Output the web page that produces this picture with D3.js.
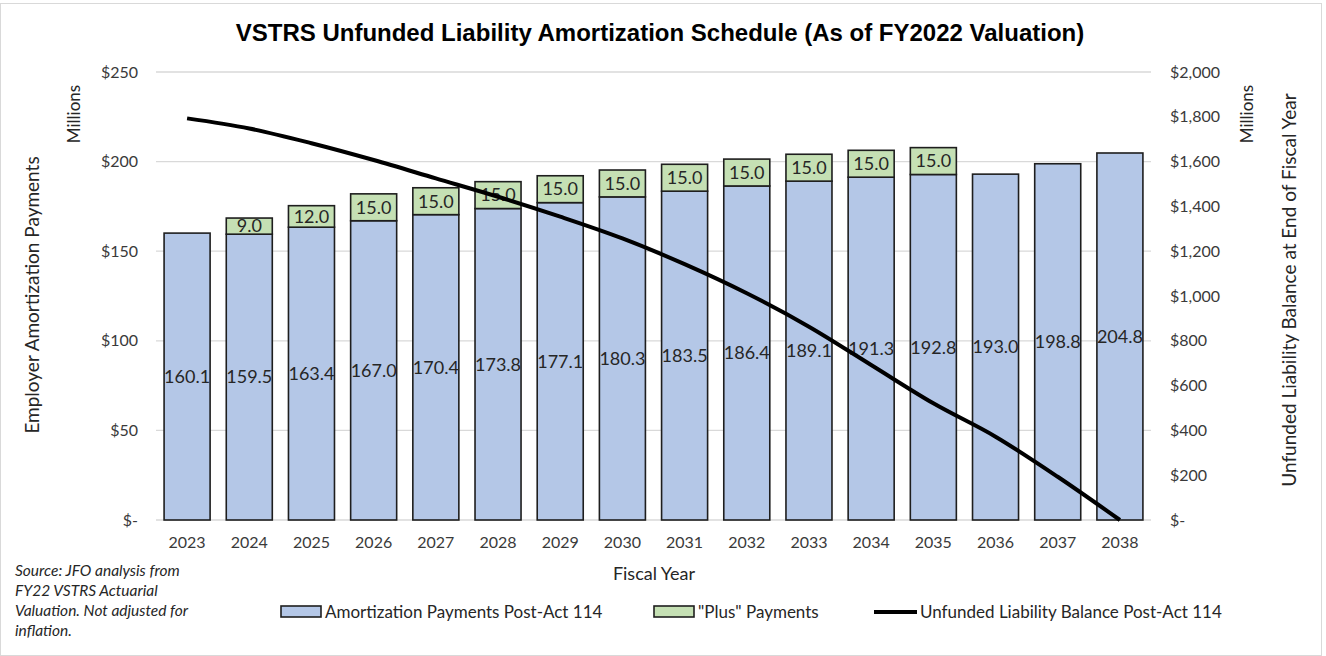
<!DOCTYPE html>
<html>
<head>
<meta charset="utf-8">
<script src="https://cdn.jsdelivr.net/npm/d3@7"></script>
<style>
  body { margin: 0; background: #fff; }
  text { font-family: Lato, "Open Sans", sans-serif; fill: #262626; }
  .tick text { font-size: 16px; fill: #3a3a3a; }
</style>
</head>
<body>
<div id="chart"></div>
<script>
// values in $ millions
var years = ['2023', '2024', '2025', '2026', '2027', '2028', '2029', '2030',
             '2031', '2032', '2033', '2034', '2035', '2036', '2037', '2038'];
var amortPayments = [160.1, 159.5, 163.4, 167.0, 170.4, 173.8, 177.1, 180.3,
                     183.5, 186.4, 189.1, 191.3, 192.8, 193.0, 198.8, 204.8];
var plusPayments = [0, 9.0, 12.0, 15.0, 15.0, 15.0, 15.0, 15.0,
                    15.0, 15.0, 15.0, 15.0, 15.0, 0, 0, 0];
var liabilityBalance = [1793, 1748, 1682, 1607, 1525, 1443, 1354, 1257,
                        1142, 1012, 863, 692, 521, 372, 193, 0];
var leftTicks = [0, 50, 100, 150, 200, 250];
var rightTicks = [0, 200, 400, 600, 800, 1000, 1200, 1400, 1600, 1800, 2000];

var W = 1326, H = 656;
var margin = {top: 72, left: 156, right: 175, bottom: 136};
var pw = W - margin.left - margin.right;
var ph = H - margin.top - margin.bottom;

var svg = d3.select('#chart').append('svg').attr('width', W).attr('height', H);

// light frame around the chart
svg.append('rect').attr('x', 0.5).attr('y', 3.5).attr('width', W - 5).attr('height', H - 4)
    .attr('fill', 'none').attr('stroke', '#d9d9d9');

var g = svg.append('g').attr('transform', 'translate(' + margin.left + ',' + margin.top + ')');

var x = d3.scaleBand().domain(years).range([0, pw]).paddingInner(0.26).paddingOuter(0.13);
var yL = d3.scaleLinear().domain([0, 250]).range([ph, 0]);
var yR = d3.scaleLinear().domain([0, 2000]).range([ph, 0]);

var fmtL = function(d) { return d === 0 ? '$-' : '$' + d3.format(',')(d); };

// gridlines
g.append('g').selectAll('line.grid').data(leftTicks).enter().append('line').attr('class', 'grid')
    .attr('x1', 0).attr('x2', pw)
    .attr('y1', function(d) { return yL(d); }).attr('y2', function(d) { return yL(d); })
    .attr('stroke', '#d9d9d9').attr('stroke-width', 1.3);

// axes
var axL = g.append('g').call(d3.axisLeft(yL).tickValues(leftTicks).tickFormat(fmtL).tickSize(0).tickPadding(18));
axL.select('.domain').remove();

var axR = g.append('g').attr('transform', 'translate(' + pw + ',0)')
    .call(d3.axisRight(yR).tickValues(rightTicks).tickFormat(fmtL).tickSize(0).tickPadding(19));
axR.select('.domain').remove();

var axX = g.append('g').attr('transform', 'translate(0,' + ph + ')')
    .call(d3.axisBottom(x).tickSize(0).tickPadding(17));
axX.select('.domain').remove();

// stacked bars
var bw = x.bandwidth();
g.append('g').selectAll('rect.amort').data(amortPayments).enter().append('rect').attr('class', 'amort')
    .attr('x', function(d, i) { return x(years[i]); })
    .attr('y', function(d) { return yL(d); })
    .attr('width', bw)
    .attr('height', function(d) { return yL(0) - yL(d); })
    .attr('fill', '#b4c7e7').attr('stroke', '#1e1e1e').attr('stroke-width', 1.6);

var plusData = years.map(function(y, i) { return {year: y, base: amortPayments[i], v: plusPayments[i]}; })
    .filter(function(d) { return d.v > 0; });

g.append('g').selectAll('rect.plus').data(plusData).enter().append('rect').attr('class', 'plus')
    .attr('x', function(d) { return x(d.year); })
    .attr('y', function(d) { return yL(d.base + d.v); })
    .attr('width', bw)
    .attr('height', function(d) { return yL(d.base) - yL(d.base + d.v); })
    .attr('fill', '#c5e0b4').attr('stroke', '#1e1e1e').attr('stroke-width', 1.6);

// data labels
g.append('g').selectAll('text.amort-lbl').data(amortPayments).enter().append('text').attr('class', 'amort-lbl')
    .attr('x', function(d, i) { return x(years[i]) + bw / 2; })
    .attr('y', function(d) { return yL(d / 2); })
    .attr('dy', '0.35em')
    .style('text-anchor', 'middle').style('font-size', '18px')
    .text(function(d) { return d.toFixed(1); });

g.append('g').selectAll('text.plus-lbl').data(plusData).enter().append('text').attr('class', 'plus-lbl')
    .attr('x', function(d) { return x(d.year) + bw / 2; })
    .attr('y', function(d) { return yL(d.base + d.v / 2); })
    .attr('dy', '0.35em')
    .style('text-anchor', 'middle').style('font-size', '18px')
    .text(function(d) { return d.v.toFixed(1); });

// liability balance line
var line = d3.line()
    .x(function(d, i) { return x(years[i]) + bw / 2; })
    .y(function(d) { return yR(d); })
    .curve(d3.curveMonotoneX);
g.append('path').datum(liabilityBalance).attr('d', line)
    .attr('fill', 'none').attr('stroke', '#000').attr('stroke-width', 4);

// titles
svg.append('text').attr('x', 660).attr('y', 41).style('text-anchor', 'middle')
    .style('font-family', '"Liberation Sans", Arial, sans-serif').style('font-weight', 'bold')
    .style('font-size', '24px').style('fill', '#000')
    .text('VSTRS Unfunded Liability Amortization Schedule (As of FY2022 Valuation)');

svg.append('text').attr('transform', 'translate(80,114) rotate(-90)').style('text-anchor', 'middle')
    .style('font-size', '17px').text('Millions');
svg.append('text').attr('transform', 'translate(39,295) rotate(-90)').style('text-anchor', 'middle')
    .style('font-size', '19px').text('Employer Amortization Payments');

svg.append('text').attr('transform', 'translate(1253,114) rotate(-90)').style('text-anchor', 'middle')
    .style('font-size', '17px').text('Millions');
svg.append('text').attr('transform', 'translate(1296,290) rotate(-90)').style('text-anchor', 'middle')
    .style('font-size', '19px').text('Unfunded Liability Balance at End of Fiscal Year');

svg.append('text').attr('x', 654).attr('y', 580).style('text-anchor', 'middle')
    .style('font-size', '18px').text('Fiscal Year');

// source note
var src = ['Source: JFO analysis from', 'FY22 VSTRS Actuarial', 'Valuation. Not adjusted for', 'inflation.'];
svg.append('g').selectAll('text.src').data(src).enter().append('text').attr('class', 'src')
    .attr('x', 15).attr('y', function(d, i) { return 576 + i * 20; })
    .style('font-size', '15.5px').style('font-style', 'italic')
    .text(function(d) { return d; });

// legend
var legend = [
  {label: 'Amortization Payments Post-Act 114', x: 281, type: 'rect', fill: '#b4c7e7'},
  {label: '"Plus" Payments', x: 654, type: 'rect', fill: '#c5e0b4'},
  {label: 'Unfunded Liability Balance Post-Act 114', x: 874, type: 'line'}
];
var lg = svg.append('g').selectAll('g.leg').data(legend).enter().append('g').attr('class', 'leg')
    .attr('transform', function(d) { return 'translate(' + d.x + ',612)'; });
lg.filter(function(d) { return d.type === 'rect'; }).append('rect')
    .attr('x', 0).attr('y', -6).attr('width', 40).attr('height', 11)
    .attr('fill', function(d) { return d.fill; }).attr('stroke', '#1e1e1e').attr('stroke-width', 1.6);
lg.filter(function(d) { return d.type === 'line'; }).append('line')
    .attr('x1', 0).attr('x2', 43).attr('y1', 0).attr('y2', 0)
    .attr('stroke', '#000').attr('stroke-width', 4);
lg.append('text').attr('x', function(d) { return d.type === 'line' ? 46 : 44; }).attr('y', 0).attr('dy', '0.35em')
    .style('font-size', '17px').text(function(d) { return d.label; });
</script>
</body>
</html>
